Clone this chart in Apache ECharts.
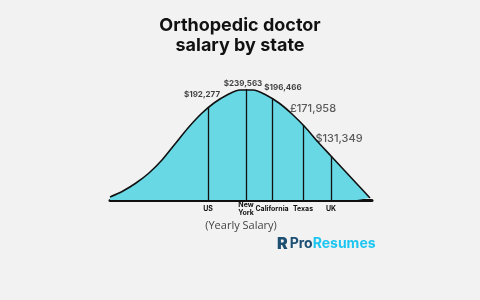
<!DOCTYPE html>
<html>
<head>
<meta charset="utf-8">
<script src="https://cdn.jsdelivr.net/npm/echarts@6/dist/echarts.min.js"></script>
<style>
  html,body{margin:0;padding:0;background:#f2f2f2}
  #chart{width:480px;height:300px}
</style>
</head>
<body>
<div id="chart"></div>
<script>
// bell curve outline (x position, height)
let curveX = [0, 13, 26, 39, 52, 65, 78, 91, 104, 117, 130, 143, 156, 169, 182, 195, 208, 221, 234, 247, 260]
let curveY = [3, 9, 17, 27, 40, 56, 72, 86, 97, 105, 110, 110, 105, 97, 86, 73, 58, 44, 30, 16, 2]

// the five marked salaries
let states = ['US', 'New\nYork', 'California', 'Texas', 'UK']
let stateX = [98, 136, 162, 193, 221]
let stateY = [92, 111, 101, 75, 44]
let salaries = ['$192,277', '$239,563', '$196,466', '£171,958', '$131,349']

let labelOffsets = [[-6, -9], [-3, -1], [11, -7], [10, -11], [8, -12]]
let bigLabel = [false, false, false, true, true]

let chart = echarts.init(document.getElementById('chart'))

let stateName = {}
stateX.forEach((x, i) => stateName[x] = states[i])

let option = {
  backgroundColor: '#f2f2f2',
  animation: false,
  title: {
    text: 'Orthopedic doctor\nsalary by state',
    left: 'center',
    top: 11,
    textStyle: {
      fontFamily: 'Inter',
      fontWeight: 700,
      fontSize: 18,
      lineHeight: 20,
      color: '#111'
    }
  },
  grid: {left: 110, right: 108, top: 80, bottom: 100},
  xAxis: {
    type: 'value',
    min: 0,
    max: 262,
    name: '(Yearly Salary)',
    nameLocation: 'middle',
    nameGap: 20,
    nameTextStyle: {fontFamily: 'Open Sans', fontSize: 11, color: '#444'},
    axisLine: {lineStyle: {color: '#111', width: 3}},
    axisTick: {show: false},
    splitLine: {show: false},
    axisLabel: {
      customValues: stateX,
      margin: 9,
      verticalAlign: 'middle',
      fontFamily: 'Inter',
      fontWeight: 700,
      fontSize: 7,
      lineHeight: 8,
      color: '#111',
      formatter: v => stateName[v] || ''
    }
  },
  yAxis: {
    type: 'value',
    min: 0,
    max: 120,
    show: false
  },
  series: [
    {
      type: 'line',
      data: curveX.map((x, i) => [x, curveY[i]]),
      smooth: 0.3,
      symbol: 'none',
      lineStyle: {color: '#111', width: 1.6},
      areaStyle: {color: '#69d8e5', opacity: 1},
      markLine: {
        silent: true,
        symbol: 'none',
        label: {show: false},
        lineStyle: {color: '#111', width: 1.3, type: 'solid'},
        data: stateX.map((x, i) => [{coord: [x, 0]}, {coord: [x, stateY[i]]}])
      }
    },
    {
      // invisible carriers for the salary labels
      type: 'scatter',
      symbolSize: 0,
      data: stateX.map((x, i) => ({
        value: [x, stateY[i]],
        label: {
          show: true,
          position: 'top',
          distance: 0,
          offset: labelOffsets[i],
          formatter: salaries[i],
          fontFamily: 'Inter',
          fontWeight: bigLabel[i] ? 500 : 700,
          fontSize: bigLabel[i] ? 11 : 8,
          color: bigLabel[i] ? '#333' : '#111'
        }
      }))
    }
  ],
  graphic: [
    {
      type: 'text',
      left: 277,
      top: 236,
      style: {
        text: '{i|R}{p|Pro}{r|Resumes}',
        rich: {
          i: {fontFamily: 'Inter', fontWeight: 900, fontSize: 16, fill: '#1d4f73', padding: [0, 2, 0, 0]},
          p: {fontFamily: 'Inter', fontWeight: 700, fontSize: 14, fill: '#1d4f73'},
          r: {fontFamily: 'Inter', fontWeight: 700, fontSize: 14, fill: '#1cc6f0'}
        }
      }
    }
  ]
}

chart.setOption(option)
</script>
</body>
</html>
